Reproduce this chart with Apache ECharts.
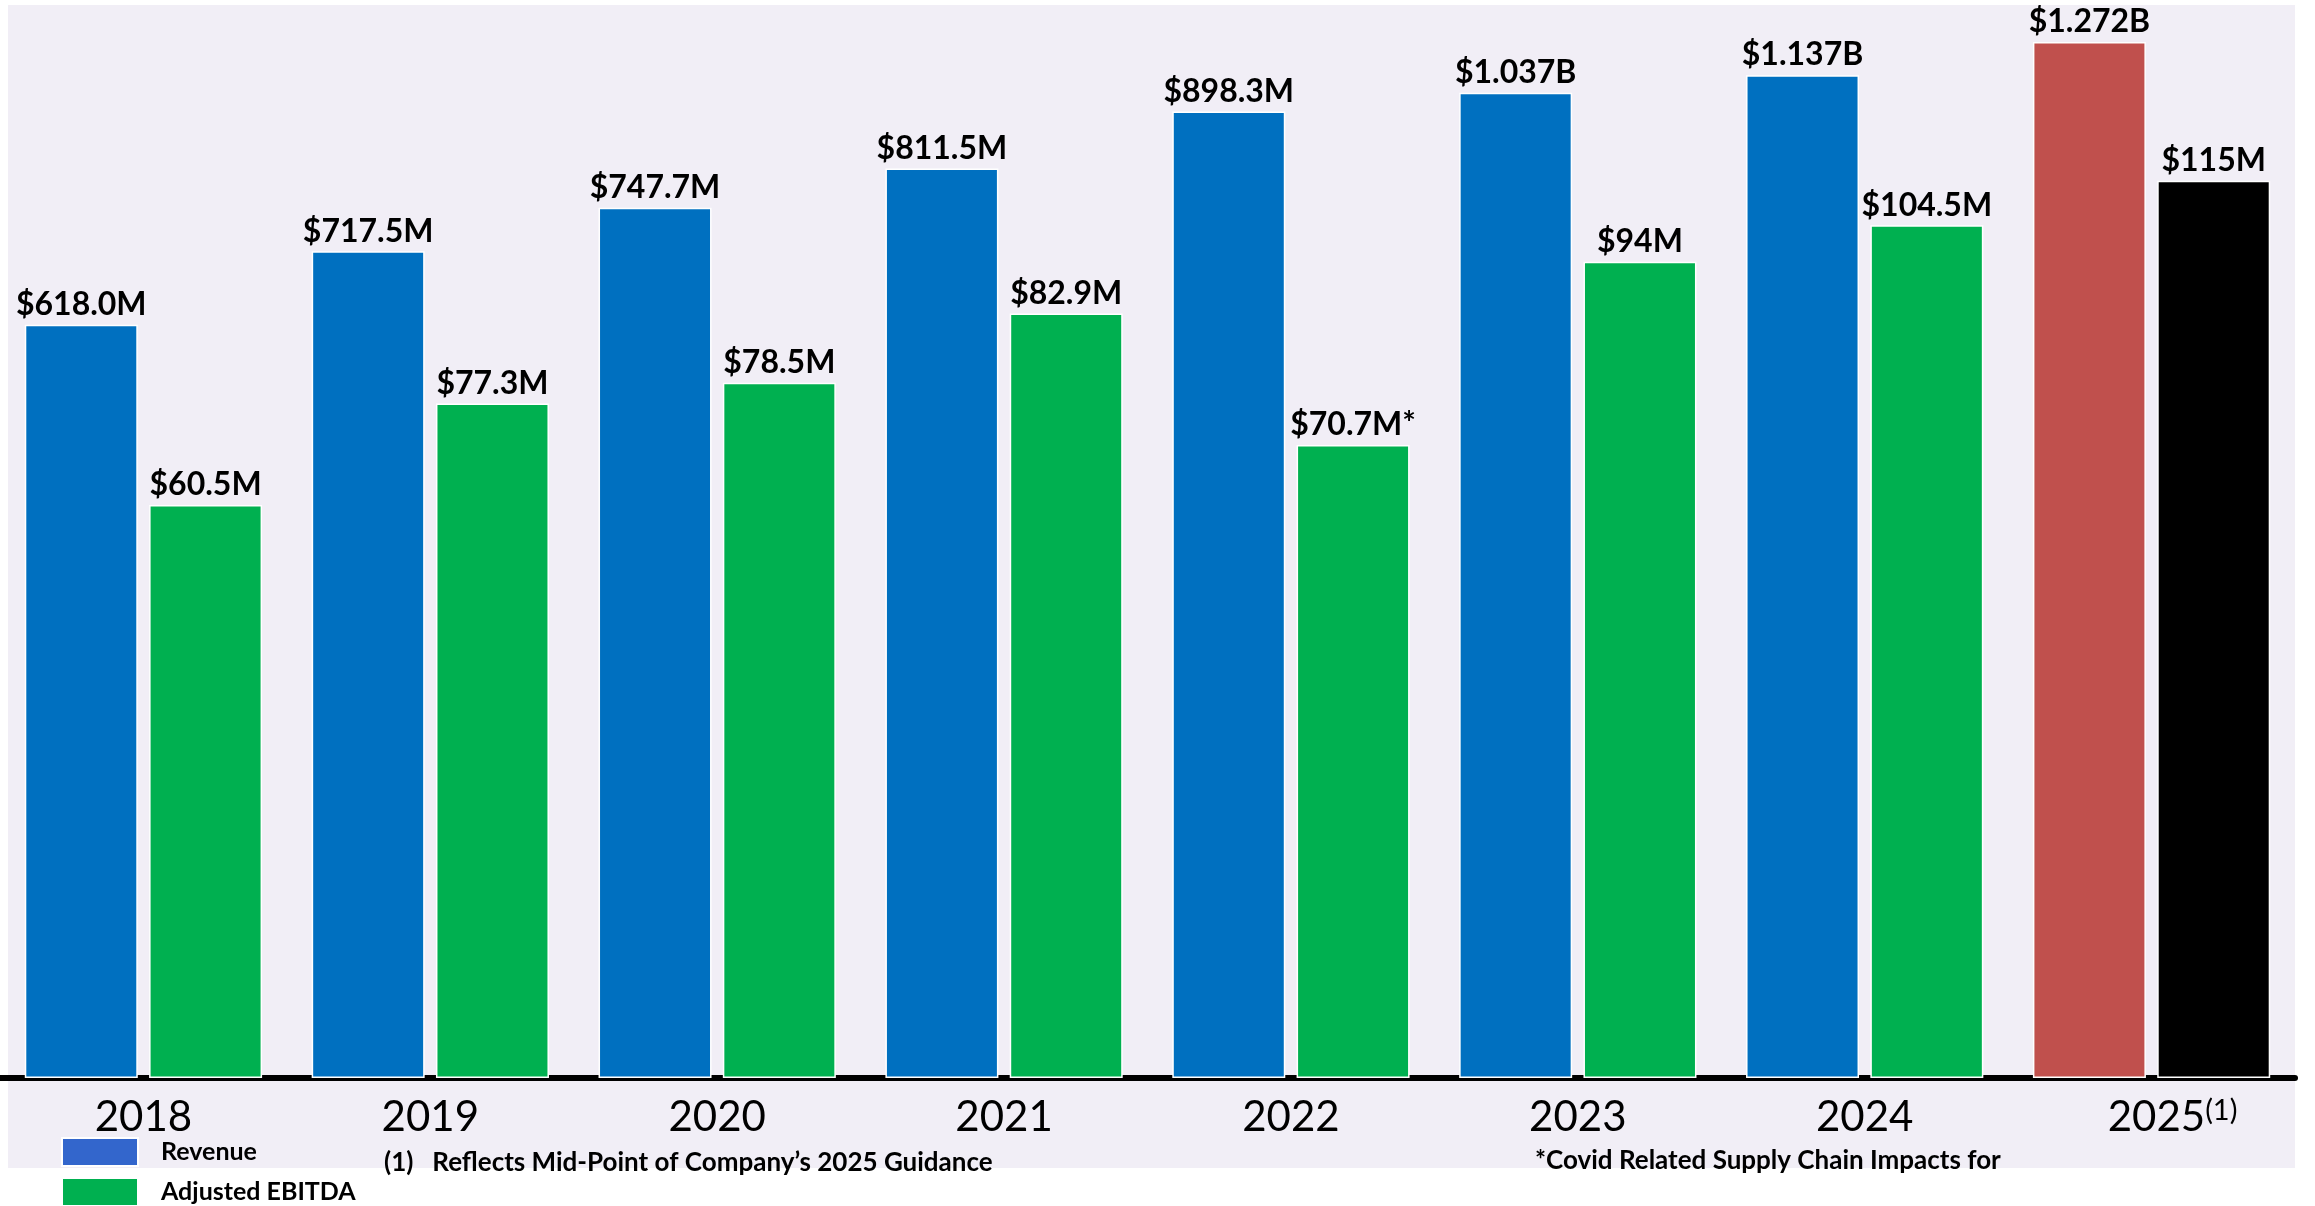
<!DOCTYPE html>
<html>
<head>
<meta charset="utf-8">
<title>Revenue and Adjusted EBITDA</title>
<script src="https://cdn.jsdelivr.net/npm/echarts@6/dist/echarts.min.js"></script>
<style>
  html, body { margin: 0; padding: 0; background: #fff; }
  #chart { width: 2315px; height: 1206px; }
</style>
</head>
<body>
<div id="chart"></div>
<script>
// years on the axis
const years = ['2018', '2019', '2020', '2021', '2022', '2023', '2024', '2025']

// value labels as printed on the slide
const revenueLabels = ['$618.0M', '$717.5M', '$747.7M', '$811.5M', '$898.3M', '$1.037B', '$1.137B', '$1.272B']
const ebitdaLabels = ['$60.5M', '$77.3M', '$78.5M', '$82.9M', '$70.7M*', '$94M', '$104.5M', '$115M']

// the slide is not drawn to scale: bar heights (tallest bar = 100)
const revenueHeights = [72.7, 79.8, 84.0, 87.8, 93.3, 95.1, 96.8, 100]
const ebitdaHeights = [55.3, 65.1, 67.1, 73.8, 61.1, 78.8, 82.3, 86.6]

const BLUE = '#0070c0'
const GREEN = '#00b050'
const FONT = 'Lato, "Open Sans", sans-serif'

const chart = echarts.init(document.getElementById('chart'))

// 2025 is guidance, drawn in red / black
function colored (values, color, lastColor) {
  return values.map((v, i) => ({
    value: v,
    itemStyle: { color: i === values.length - 1 ? lastColor : color },
  }))
}

const barLabel = (labels) => ({
  show: true,
  position: 'top',
  distance: 4,
  color: '#000',
  fontFamily: FONT,
  fontWeight: 'bold',
  fontSize: 32,
  formatter: (p) => labels[p.dataIndex],
})

// one legend per item so they stack like the slide
const legendItem = (name, color, top) => ({
  left: 61,
  top: top,
  padding: 0,
  itemWidth: 76,
  itemHeight: 28,
  icon: 'rect',
  selectedMode: false,
  textStyle: {
    color: '#000',
    fontFamily: FONT,
    fontWeight: 'bold',
    fontSize: 25,
    padding: [0, 0, 0, 18],
  },
  data: [{ name: name, itemStyle: { color: color, borderColor: '#fff', borderWidth: 2 } }],
})

const option = {
  backgroundColor: '#fff',
  animation: false,
  graphic: [
    {
      type: 'rect',
      z: -10,
      shape: { x: 8, y: 5, width: 2287, height: 1163 },
      style: { fill: '#f1eef6' },
    },
    {
      type: 'text',
      left: 384,
      top: 1150,
      z: 10,
      style: {
        text: '(1)   Reflects Mid-Point of Company’s 2025 Guidance',
        fill: '#000',
        font: 'bold 26px ' + FONT,
      },
    },
    {
      type: 'text',
      left: 1535,
      top: 1148,
      z: 10,
      style: {
        text: '*Covid Related Supply Chain Impacts for',
        fill: '#000',
        font: 'bold 26px ' + FONT,
      },
    },
  ],
  legend: [
    legendItem('Revenue', '#3366cc', 1137),
    legendItem('Adjusted EBITDA', GREEN, 1177),
  ],
  grid: {
    left: -7,
    right: 20,
    top: 42,
    bottom: 128,
    containLabel: false,
  },
  xAxis: {
    type: 'category',
    data: years,
    offset: 8,
    axisLine: { lineStyle: { color: '#000', width: 6 } },
    axisTick: { show: false },
    axisLabel: {
      interval: 0,
      margin: 10,
      color: '#000',
      fontFamily: FONT,
      fontSize: 42,
      formatter: (v) => v === '2025' ? '{p| }{y|2025}{s|(1)}' : v,
      rich: {
        p: { width: 42, fontSize: 42 },
        y: { fontSize: 42, fontFamily: FONT, color: '#000' },
        s: { fontSize: 29, fontFamily: FONT, color: '#000', verticalAlign: 'top' },
      },
    },
  },
  yAxis: {
    type: 'value',
    min: 0,
    max: 100,
    show: false,
  },
  series: [
    {
      name: 'Revenue',
      type: 'bar',
      barWidth: 113,
      barGap: '10%',
      itemStyle: { color: BLUE, borderColor: '#fff', borderWidth: 1.5 },
      label: barLabel(revenueLabels),
      data: colored(revenueHeights, BLUE, '#c0504d'),
    },
    {
      name: 'Adjusted EBITDA',
      type: 'bar',
      barWidth: 113,
      barGap: '10%',
      itemStyle: { color: GREEN, borderColor: '#fff', borderWidth: 1.5 },
      label: barLabel(ebitdaLabels),
      data: colored(ebitdaHeights, GREEN, '#000000'),
    },
  ],
}

chart.setOption(option)
</script>
</body>
</html>
